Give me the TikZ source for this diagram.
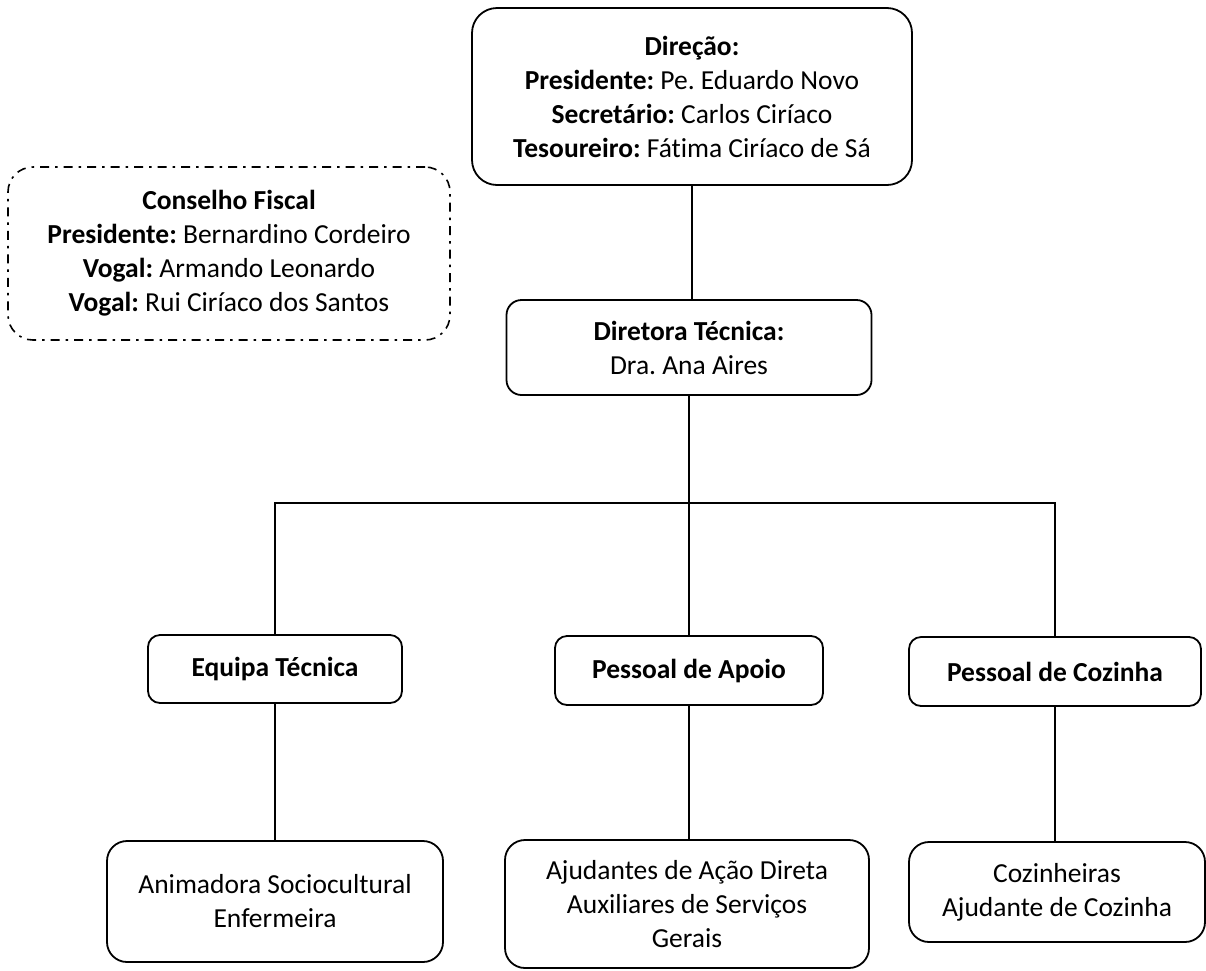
\documentclass[tikz,border=0pt]{standalone}
\usepackage{fontspec}
\setmainfont{Carlito}[Ligatures=NoCommon]
\usepackage{tikz}
\frenchspacing

\begin{document}
\begin{tikzpicture}[x=1pt, y=-1pt, every node/.style={align=center, inner sep=0pt, font=\fontsize{27.5}{34}\selectfont},
		box/.style={draw, line width=1.8pt, rounded corners=15pt},
		fiscal/.style={draw, line width=1.6pt, rounded corners=25pt, dash pattern=on 9pt off 6pt on 2.5pt off 6pt},
		link/.style={line width=1.3pt}]
				\useasboundingbox (0,0) rectangle (1206,970);
				\node [box, rounded corners=25pt, minimum width=440pt, minimum height=177pt] (dir) at (692,96.5) {\textbf{Direção:}\\ \textbf{Presidente:} Pe. Eduardo Novo\\ \textbf{Secretário:} Carlos Ciríaco\\ \textbf{Tesoureiro:} Fátima Ciríaco de Sá};
				\node [fiscal, minimum width=442pt, minimum height=173pt] (cf) at (229,253.5) {\textbf{Conselho Fiscal}\\ \textbf{Presidente:} Bernardino Cordeiro\\ \textbf{Vogal:} Armando Leonardo\\ \textbf{Vogal:} Rui Ciríaco dos Santos};
				\node [box, minimum width=365pt, minimum height=95pt] (dt) at (689,347.5) {\textbf{Diretora Técnica:}\\ Dra. Ana Aires};
				\node [box, rounded corners=12pt, minimum width=254pt, minimum height=68pt] (eq) at (275,669) {\textbf{Equipa Técnica}};
				\node [box, rounded corners=12pt, minimum width=268pt, minimum height=69pt] (ap) at (689,670.5) {\textbf{Pessoal de Apoio}};
				\node [box, rounded corners=12pt, minimum width=292pt, minimum height=69pt] (pc) at (1055,671.5) {\textbf{Pessoal de Cozinha}};
				\node [box, rounded corners=20pt, minimum width=336pt, minimum height=121pt] (an) at (275,901.5) {Animadora Sociocultural\\ Enfermeira};
				\node [box, rounded corners=20pt, minimum width=364pt, minimum height=128pt] (aj) at (687,904) {Ajudantes de Ação Direta\\ Auxiliares de Serviços\\ Gerais};
				\node [box, rounded corners=20pt, minimum width=296pt, minimum height=100pt] (co) at (1057,892) {Cozinheiras\\ Ajudante de Cozinha};
				\coordinate (bus) at (689,503);
				\draw [link] (dir.south) -- (dir.south |- dt.north);
				\draw [link] (dt.south) -- (dt.south |- ap.north);
				\draw [link] (eq.north) |- (bus) -| (pc.north);
				\draw [link] (eq.south) -- (an.north);
				\draw [link] (ap.south) -- (ap.south |- aj.north);
				\draw [link] (pc.south) -- (pc.south |- co.north);
			\end{tikzpicture}
\end{document}
